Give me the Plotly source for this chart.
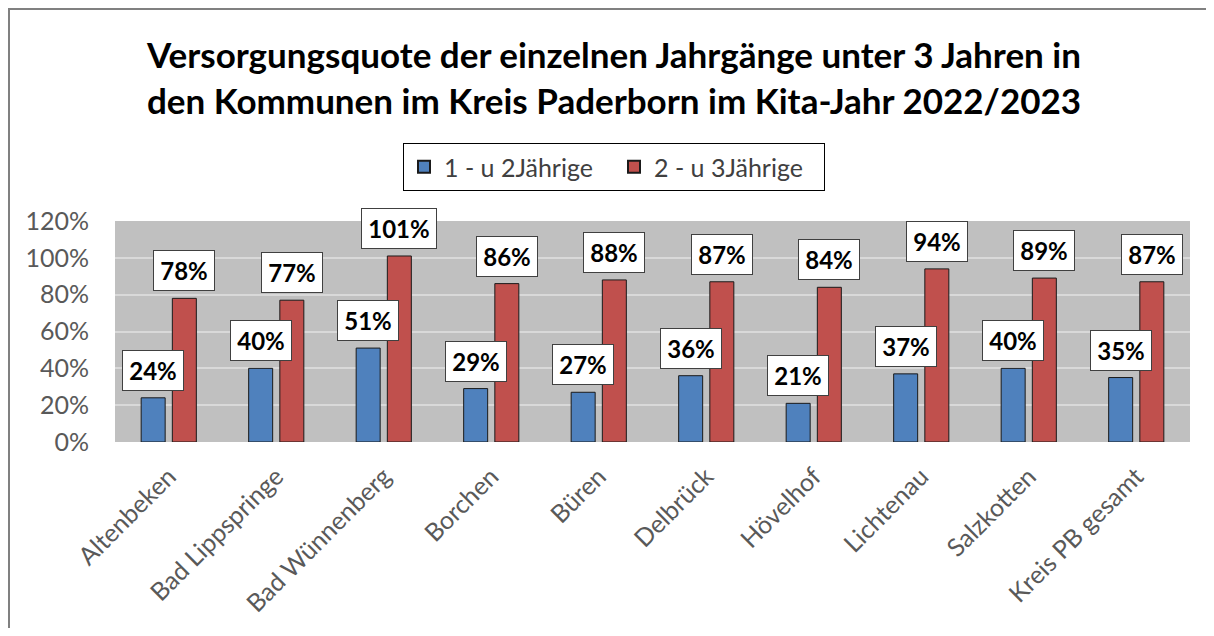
import plotly.graph_objects as go

categories = ["Altenbeken", "Bad Lippspringe", "Bad Wünnenberg", "Borchen", "Büren",
              "Delbrück", "Hövelhof", "Lichtenau", "Salzkotten", "Kreis PB gesamt"]
series_names = ["1 - u 2Jährige", "2 - u 3Jährige"]
vals_1_2 = [24, 40, 51, 29, 27, 36, 21, 37, 40, 35]
vals_2_3 = [78, 77, 101, 86, 88, 87, 84, 94, 89, 87]
y_ticks = [0, 20, 40, 60, 80, 100, 120]
y_tick_labels = ["0%", "20%", "40%", "60%", "80%", "100%", "120%"]

# page body has an 8px margin; work in figure coordinates = screen - 8
OFF = 8
W, H = 1214 - OFF, 636 - 2 * OFF
ML, MT = 115 - OFF, 221 - OFF
MR = W - (1190 - OFF)
MB = H - (442 - OFF)
pw = W - ML - MR
ph = H - MT - MB

FONT = "Lato"

fig = go.Figure()
fig.add_trace(go.Bar(name=series_names[0], x=categories, y=[v / 100 for v in vals_1_2],
                     marker=dict(color="#4f81bd", line=dict(color="#1a1a1a", width=1))))
fig.add_trace(go.Bar(name=series_names[1], x=categories, y=[v / 100 for v in vals_2_3],
                     marker=dict(color="#c0504d", line=dict(color="#1a1a1a", width=1))))

cat_px = pw / len(categories)
bargap = 0.42
slot = cat_px * (1 - bargap) / 2
anns = []
for vals, sign in ((vals_1_2, -1), (vals_2_3, 1)):
    for c, v in zip(categories, vals):
        anns.append(dict(x=c, y=v / 100, xref="x", yref="y", text=f"<b>{v}%</b>",
                         showarrow=False, xshift=sign * slot / 2, yshift=7, yanchor="bottom",
                         font=dict(family=FONT, size=24, color="#000000"),
                         bgcolor="#ffffff", bordercolor="#404040", borderwidth=1,
                         borderpad=5, width=50 if v < 100 else 64))

def px2x(p):
    return (p - OFF - ML) / pw

def py2y(p):
    return (H - MB - (p - OFF)) / ph

shapes = [
    dict(type="line", xref="paper", yref="paper", x0=px2x(8), x1=px2x(1212),
         y0=py2y(9), y1=py2y(9), line=dict(color="#808080", width=2)),
    dict(type="line", xref="paper", yref="paper", x0=px2x(9), x1=px2x(9),
         y0=py2y(8), y1=py2y(628), line=dict(color="#808080", width=2)),
]

fig.update_layout(
    width=W, height=H,
    margin=dict(l=ML, r=MR, t=MT, b=MB, autoexpand=False),
    paper_bgcolor="#ffffff", plot_bgcolor="#c0c0c0",
    barmode="group", bargap=bargap, bargroupgap=0.23,
    title=dict(text="<b>Versorgungsquote der einzelnen Jahrgänge unter 3 Jahren in<br>"
                    "den Kommunen im Kreis Paderborn im Kita-Jahr 2022/2023</b>",
               x=px2x(614), xanchor="center", xref="paper", y=1 - 60 / H, yanchor="top",
               font=dict(family=FONT, size=35, color="#000000")),
    legend=dict(orientation="h", x=px2x(614), xanchor="center", y=py2y(143), yanchor="top",
                bgcolor="#ffffff", bordercolor="#000000", borderwidth=1,
                font=dict(family=FONT, size=25, color="#404040"),
                itemsizing="constant", traceorder="normal", itemwidth=30,
                entrywidth=165, entrywidthmode="pixels"),
    xaxis=dict(tickangle=-45, tickfont=dict(family=FONT, size=25, color="#595959"),
               showgrid=False, showline=False, ticks="", ticklabelstandoff=14),
    yaxis=dict(range=[0, 1.2], tickvals=[t / 100 for t in y_ticks], ticktext=y_tick_labels,
               tickfont=dict(family=FONT, size=25, color="#595959"),
               gridcolor="#d9d9d9", gridwidth=2, zeroline=False, showline=False, ticks="",
               ticklabelstandoff=25),
    annotations=anns,
    shapes=shapes,
)

fig.write_html("out.html", config={"displayModeBar": False})
